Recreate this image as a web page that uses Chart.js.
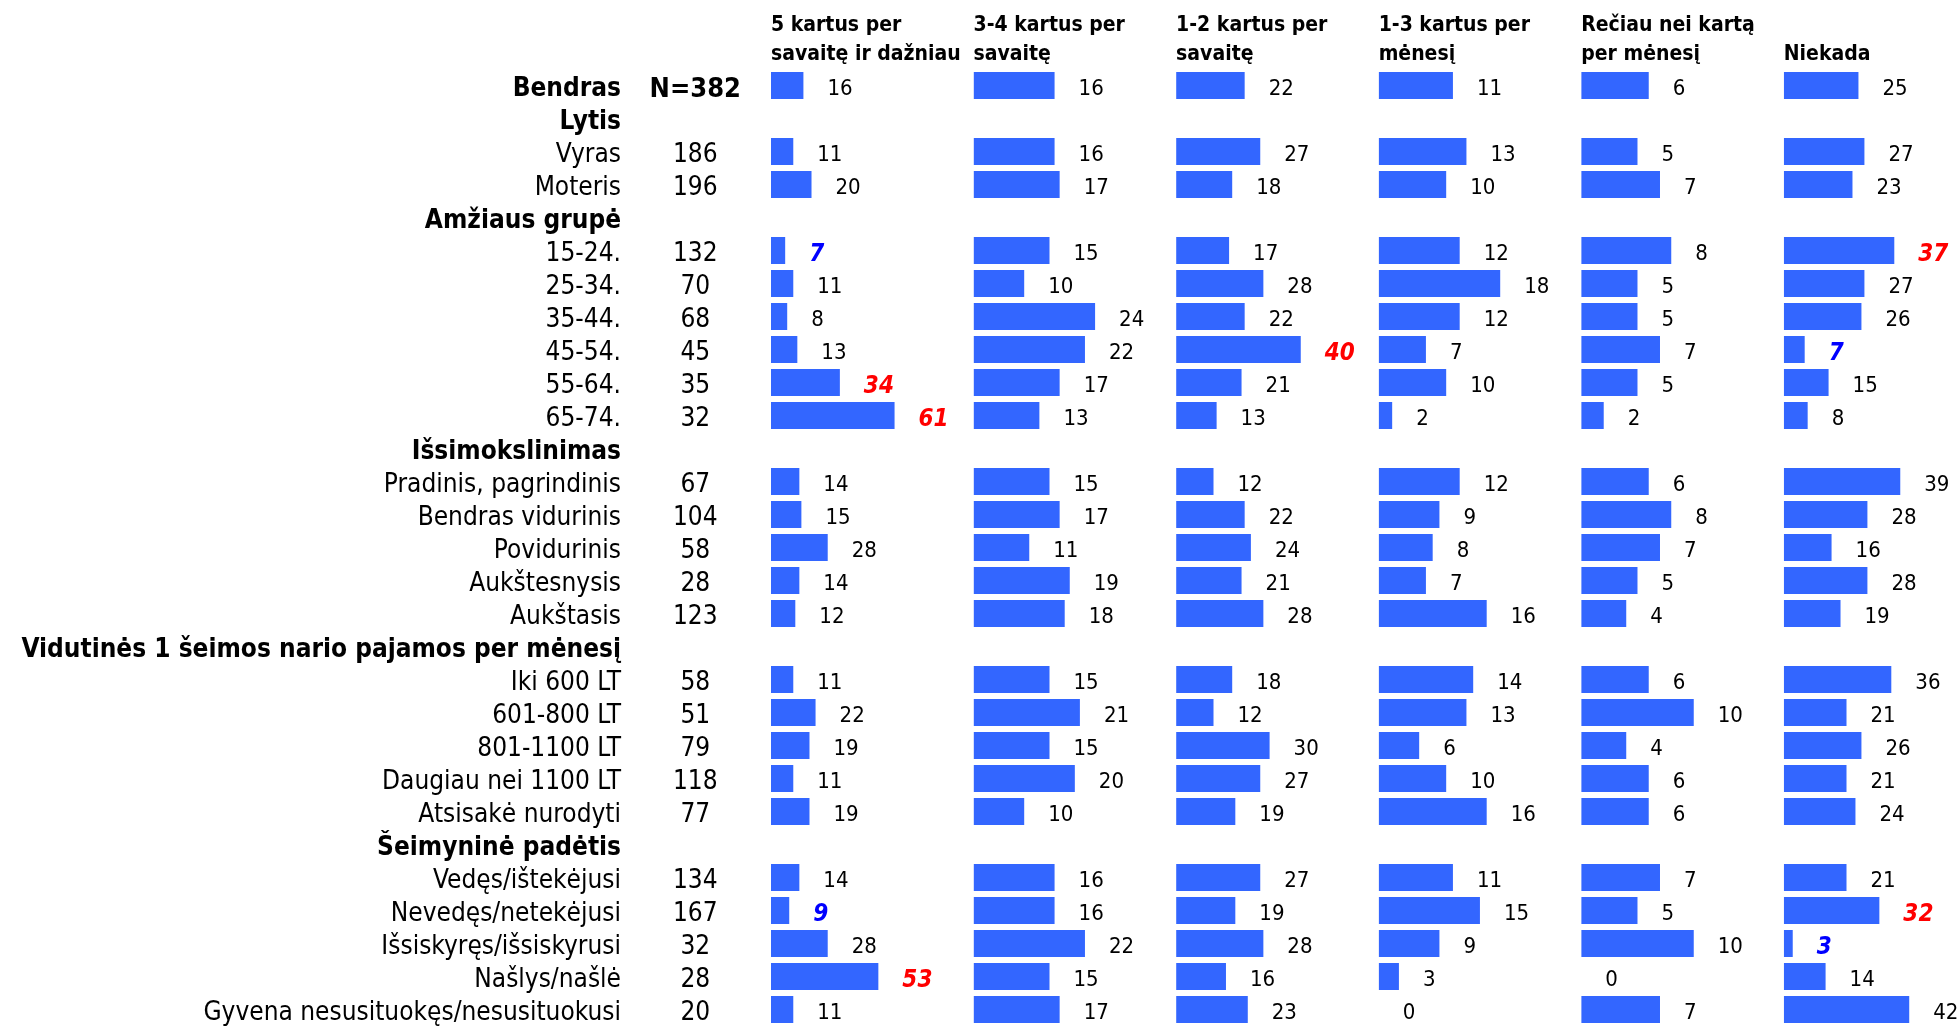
<!DOCTYPE html>
<html>
<head>
<meta charset="utf-8">
<script src="https://cdn.jsdelivr.net/npm/chart.js@4/dist/chart.umd.min.js"></script>
<style>
  html, body { margin: 0; padding: 0; background: #fff; }
  canvas { display: block; }
</style>
</head>
<body>
<canvas id="freq-chart" width="1960" height="1026"></canvas>
<script>
// row labels, group headers have no N and no values
const rowLabels = [
  "Bendras", "Lytis", "Vyras", "Moteris", "Amžiaus grupė",
  "15-24.", "25-34.", "35-44.", "45-54.", "55-64.", "65-74.",
  "Išsimokslinimas", "Pradinis, pagrindinis", "Bendras vidurinis", "Povidurinis", "Aukštesnysis", "Aukštasis",
  "Vidutinės 1 šeimos nario pajamos per mėnesį", "Iki 600 LT", "601-800 LT", "801-1100 LT", "Daugiau nei 1100 LT", "Atsisakė nurodyti",
  "Šeimyninė padėtis", "Vedęs/ištekėjusi", "Nevedęs/netekėjusi", "Išsiskyręs/išsiskyrusi", "Našlys/našlė", "Gyvena nesusituokęs/nesusituokusi"
];
const rowN = [
  "N=382", "", "186", "196", "",
  "132", "70", "68", "45", "35", "32",
  "", "67", "104", "58", "28", "123",
  "", "58", "51", "79", "118", "77",
  "", "134", "167", "32", "28", "20"
];
const boldRows = [0, 1, 4, 11, 17, 23];

const colTitles = [
  ["5 kartus per", "savaitę ir dažniau"],
  ["3-4 kartus per", "savaitę"],
  ["1-2 kartus per", "savaitę"],
  ["1-3 kartus per", "mėnesį"],
  ["Rečiau nei kartą", "per mėnesį"],
  ["", "Niekada"]
];

const weekly5 = [16, null, 11, 20, null, 7, 11, 8, 13, 34, 61, null, 14, 15, 28, 14, 12, null, 11, 22, 19, 11, 19, null, 14, 9, 28, 53, 11];
const weekly34 = [16, null, 16, 17, null, 15, 10, 24, 22, 17, 13, null, 15, 17, 11, 19, 18, null, 15, 21, 15, 20, 10, null, 16, 16, 22, 15, 17];
const weekly12 = [22, null, 27, 18, null, 17, 28, 22, 40, 21, 13, null, 12, 22, 24, 21, 28, null, 18, 12, 30, 27, 19, null, 27, 19, 28, 16, 23];
const monthly13 = [11, null, 13, 10, null, 12, 18, 12, 7, 10, 2, null, 12, 9, 8, 7, 16, null, 14, 13, 6, 10, 16, null, 11, 15, 9, 3, 0];
const rarely = [6, null, 5, 7, null, 8, 5, 5, 7, 5, 2, null, 6, 8, 7, 5, 4, null, 6, 10, 4, 6, 6, null, 7, 5, 10, 0, 7];
const never = [25, null, 27, 23, null, 37, 27, 26, 7, 15, 8, null, 39, 28, 16, 28, 19, null, 36, 21, 26, 21, 24, null, 21, 32, 3, 14, 42];

// significantly higher / lower than average: [column, row]
const highMarks = [[0, 9], [0, 10], [0, 27], [2, 8], [5, 5], [5, 25]];
const lowMarks = [[0, 5], [0, 25], [5, 8], [5, 26]];

const columns = [weekly5, weekly34, weekly12, monthly13, rarely, never];
const scaleMax = [100, 40, 65, 30, 18, 59];
const colWeight = [1, 1, 1, 1, 1, 0.87];

const FONT = "'DejaVu Sans Condensed', 'DejaVu Sans', sans-serif";
const BAR_BLUE = "#3366ff";

function markOf(col, row) {
  if (highMarks.some((m) => m[0] === col && m[1] === row)) return "high";
  if (lowMarks.some((m) => m[0] === col && m[1] === row)) return "low";
  return null;
}

const valueLabels = {
  id: "valueLabels",
  afterDatasetsDraw(chart) {
    const ctx = chart.ctx;
    ctx.save();
    ctx.textBaseline = "middle";
    ctx.textAlign = "left";
    chart.data.datasets.forEach((ds, col) => {
      const meta = chart.getDatasetMeta(col);
      meta.data.forEach((bar, row) => {
        const v = ds.data[row];
        if (v === null || v === undefined) return;
        const mark = markOf(col, row);
        if (mark) {
          ctx.font = "italic bold 24px " + FONT;
          ctx.fillStyle = mark === "high" ? "#ff0000" : "#0000ff";
        } else {
          ctx.font = "22px " + FONT;
          ctx.fillStyle = "#000";
        }
        ctx.fillText(String(v), bar.x + 24, bar.y + 4);
      });
    });
    ctx.restore();
  },
};

// the label axes should not add extra room above/below the rows
function noPadding(s) {
  s.paddingTop = 0;
  s.paddingBottom = 0;
}

const scales = {
  y: {
    type: "category",
    position: "left",
    weight: 10,
    offset: true,
    grid: { display: false, drawTicks: false },
    border: { display: false },
    ticks: {
      autoSkip: false,
      color: "#000",
      padding: 9,
      labelOffset: 4,
      font: (c) => boldRows.includes(c.index)
        ? { family: FONT, size: 26, weight: "bold" }
        : { family: FONT, size: 26 },
    },
    afterFit: (s) => { s.width = 630; noPadding(s); },
  },
  n: {
    type: "category",
    axis: "y",
    position: "left",
    weight: 5,
    offset: true,
    labels: rowN,
    grid: { display: false, drawTicks: false },
    border: { display: false },
    ticks: {
      autoSkip: false,
      color: "#000",
      crossAlign: "center",
      padding: 30,
      labelOffset: 4,
      font: (c) => c.index === 0
        ? { family: FONT, size: 27, weight: "bold" }
        : { family: FONT, size: 26 },
    },
    afterFit: (s) => { s.width = 141; noPadding(s); },
  },
};

columns.forEach((vals, i) => {
  scales["c" + i] = {
    type: "linear",
    axis: "x",
    position: "top",
    stack: "cols",
    stackWeight: colWeight[i],
    weight: 10 - i,
    min: 0,
    max: scaleMax[i],
    grid: { display: false, drawTicks: false },
    border: { display: false },
    ticks: { display: false },
    title: {
      display: true,
      text: colTitles[i],
      align: "start",
      color: "#000",
      font: { family: FONT, size: 21, weight: "bold", lineHeight: 1.38 },
      padding: { top: 11, bottom: 0 },
    },
    afterFit: (s) => { s.height = 69; },
  };
});

new Chart(document.getElementById("freq-chart"), {
  type: "bar",
  data: {
    labels: rowLabels,
    datasets: columns.map((vals, i) => ({
      label: colTitles[i].join(" ").trim(),
      data: vals,
      xAxisID: "c" + i,
      yAxisID: "y",
      grouped: false,
      backgroundColor: BAR_BLUE,
      borderWidth: 0,
      categoryPercentage: 1,
      barPercentage: 0.82,
    })),
  },
  options: {
    indexAxis: "y",
    responsive: false,
    animation: false,
    devicePixelRatio: 1,
    layout: { padding: { left: 0, right: 0, top: 0, bottom: 0 } },
    plugins: {
      legend: { display: false },
      tooltip: { enabled: false },
    },
    scales: scales,
  },
  plugins: [valueLabels],
});
</script>
</body>
</html>
